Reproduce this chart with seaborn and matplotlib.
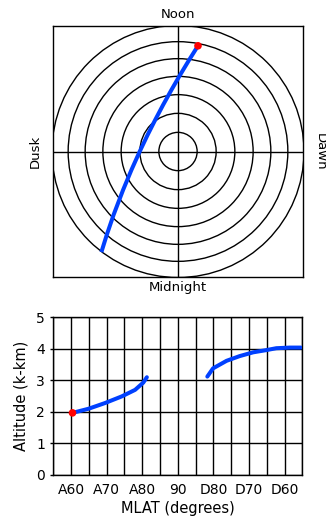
import numpy as np
import pandas as pd
import matplotlib
matplotlib.use("Agg")
import matplotlib.pyplot as plt
from matplotlib.patches import Circle
import seaborn as sns

# --- satellite footprint over the polar cap (magnetic latitude, magnetic local time)
track_mlat = [60.68, 65.13, 70.04, 73.60, 77.11, 79.77, 80.93, 79.96,
              76.85, 72.27, 65.73, 60.07, 54.86]
track_mlt = [11.286, 11.535, 11.941, 12.402, 13.175, 14.379, 16.077, 18.0,
             19.432, 20.328, 20.967, 21.298, 21.514]

# latitude rings drawn on the polar plot
ring_mlat = [85, 80, 75, 70, 65, 60, 55]

# --- altitude along the pass (ascending and descending legs)
asc_mlat = [60.4, 64.9, 69.5, 74.2, 78.0, 80.3, 81.3]
asc_alt = [1.97, 2.10, 2.28, 2.49, 2.70, 2.93, 3.10]
desc_mlat = [81.7, 80.1, 76.3, 72.6, 68.8, 65.1, 62.3, 58.5, 55.4]
desc_alt = [3.12, 3.38, 3.62, 3.77, 3.89, 3.96, 4.02, 4.04, 4.04]

xtick_pos = [60, 70, 80, 90, 100, 110, 120]
xtick_labels = ["A60", "A70", "A80", "90", "D80", "D70", "D60"]
ytick_pos = [0, 1, 2, 3, 4, 5]

BLUE = "#0040ff"
RED = "#ff0000"

sns.set_theme(style="white")
plt.rcParams["font.family"] = ["DejaVu Sans"]
plt.rcParams.update({
    "axes.edgecolor": "black",
    "axes.linewidth": 1.0,
    "text.color": "black",
    "axes.labelcolor": "black",
    "xtick.color": "black",
    "ytick.color": "black",
})

W, H = 326, 519
fig = plt.figure(figsize=(W / 100, H / 100), dpi=100)
fig.patch.set_facecolor("white")

# ---------------- polar-view panel ----------------
ax1 = fig.add_axes([53 / W, 1 - 277 / H, 250 / W, 251 / H])
theta = np.deg2rad((12 - np.array(track_mlt)) * 15.0)
rad = np.cos(np.deg2rad(np.array(track_mlat)))
track = pd.DataFrame({"x": rad * np.sin(theta), "y": rad * np.cos(theta)})

for m in ring_mlat:
    ax1.add_patch(Circle((0, 0), np.cos(np.deg2rad(m)), fill=False,
                         ec="black", lw=1.0, zorder=1))
ax1.axhline(0, color="black", lw=1.0, zorder=1)
ax1.axvline(0, color="black", lw=1.0, zorder=1)

sns.lineplot(data=track, x="x", y="y", sort=False, estimator=None,
             color=BLUE, lw=2.9, ax=ax1, zorder=3, solid_capstyle="butt")
sns.scatterplot(x=track["x"].iloc[:1], y=track["y"].iloc[:1], color=RED,
                s=30, edgecolor="none", ax=ax1, zorder=4)

lim_x = 0.569
ax1.set_xlim(-lim_x, lim_x)
ax1.set_ylim(-lim_x * 251 / 250, lim_x * 251 / 250)
ax1.set_xticks([])
ax1.set_yticks([])
ax1.set_xlabel("")
ax1.set_ylabel("")
for s in ax1.spines.values():
    s.set_color("black")
    s.set_linewidth(1.0)

fs_top = 9.5
fig.text(178 / W, 1 - 15 / H, "Noon", ha="center", va="center", fontsize=fs_top)
fig.text(178 / W, 1 - 288 / H, "Midnight", ha="center", va="center", fontsize=fs_top)
fig.text(35 / W, 1 - 151.5 / H, "Dusk", ha="center", va="center",
         rotation=90, fontsize=fs_top)
fig.text(320.5 / W, 1 - 151.5 / H, "Dawn", ha="center", va="center",
         rotation=270, fontsize=fs_top)

# ---------------- altitude panel ----------------
ax2 = fig.add_axes([53.3 / W, 1 - 475 / H, 249 / W, 157.7 / H])
asc = pd.DataFrame({"pos": asc_mlat, "alt": asc_alt})
desc = pd.DataFrame({"pos": 180 - np.array(desc_mlat), "alt": desc_alt})

sns.lineplot(data=asc, x="pos", y="alt", sort=False, estimator=None,
             color=BLUE, lw=2.9, ax=ax2, zorder=3)
sns.lineplot(data=desc, x="pos", y="alt", sort=False, estimator=None,
             color=BLUE, lw=2.9, ax=ax2, zorder=3)
sns.scatterplot(x=asc["pos"].iloc[:1], y=asc["alt"].iloc[:1], color=RED,
                s=30, edgecolor="none", ax=ax2, zorder=4, clip_on=False)

ax2.set_xlim(55, 125)
ax2.set_ylim(0, 5)
ax2.set_xticks(xtick_pos)
ax2.set_xticklabels(xtick_labels)
ax2.set_xticks(np.arange(55, 126, 5), minor=True)
ax2.set_yticks(ytick_pos)
ax2.grid(True, which="both", axis="x", color="black", lw=1.0)
ax2.grid(True, which="major", axis="y", color="black", lw=1.0)
ax2.set_axisbelow(True)
ax2.tick_params(axis="x", which="both", length=0, pad=6, labelsize=10)
ax2.tick_params(axis="y", which="major", left=True, length=2.5, width=1.0,
                color="black", pad=3.5, labelsize=10)
for s in ax2.spines.values():
    s.set_color("black")
    s.set_linewidth(1.0)

ax2.set_xlabel("MLAT (degrees)", fontsize=10.5, va="center")
ax2.xaxis.set_label_coords(0.5, (475 - 508) / 157.7)
ax2.set_ylabel("Altitude (k-km)", fontsize=10.5, va="center")
ax2.yaxis.set_label_coords((21 - 53.3) / 249, 0.5)

fig.savefig("out.png", dpi=100, facecolor="white")
